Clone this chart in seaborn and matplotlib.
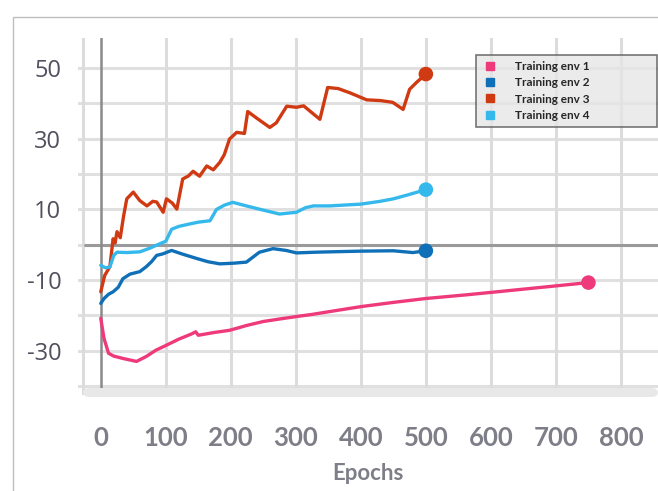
import pandas as pd
import numpy as np
import matplotlib
matplotlib.use("Agg")
import matplotlib.pyplot as plt
from matplotlib.lines import Line2D
from matplotlib.patches import Rectangle, FancyBboxPatch
import seaborn as sns

# data (epoch, reward)
env1_x = [0, 5, 12, 20, 35, 55, 70, 85, 100, 120, 140, 146, 150, 175, 198, 225, 250, 275, 301, 325, 352, 400, 450, 500, 560, 615, 680, 750]
env1_y = [-20.8, -26.5, -30.7, -31.5, -32.2, -33.0, -31.6, -29.8, -28.5, -26.7, -25.2, -24.6, -25.6, -24.8, -24.2, -22.8, -21.7, -21.0, -20.3, -19.7, -18.9, -17.5, -16.3, -15.2, -14.2, -13.2, -12.0, -10.7]

env2_x = [0, 5, 12, 19, 27, 34, 45, 60, 70, 78, 86, 95, 109, 125, 148, 165, 183, 205, 224, 244, 265, 285, 301, 330, 352, 400, 450, 480, 500]
env2_y = [-16.6, -15.2, -14.0, -13.3, -12.0, -9.6, -8.3, -7.6, -6.2, -4.8, -3.0, -2.6, -1.6, -2.6, -3.9, -4.8, -5.4, -5.2, -4.9, -2.1, -1.1, -1.6, -2.3, -2.1, -2.0, -1.8, -1.7, -2.2, -1.7]

env3_x = [0, 6, 14, 19, 22, 25, 30, 35, 40, 50, 60, 71, 80, 86, 96, 101, 110, 117, 126, 135, 142, 152, 163, 173, 183, 190, 198, 209, 221, 226, 240, 260, 270, 286, 301, 312, 337, 349, 365, 383, 409, 430, 449, 465, 475, 486, 500]
env3_y = [-13.3, -8.7, -6.2, 1.7, 0.5, 3.7, 2.0, 8.0, 13.0, 14.9, 12.5, 11.0, 12.3, 12.1, 9.2, 13.0, 11.8, 10.1, 18.6, 19.5, 20.8, 19.4, 22.3, 21.2, 23.3, 25.5, 29.9, 31.8, 31.5, 37.7, 35.8, 33.2, 34.5, 39.2, 38.9, 39.3, 35.5, 44.5, 44.2, 43.0, 41.0, 40.8, 40.3, 38.3, 44.0, 46.0, 48.3]

env4_x = [0, 7, 14, 20, 25, 40, 60, 75, 91, 100, 109, 120, 137, 150, 168, 178, 190, 203, 224, 250, 275, 301, 315, 327, 352, 400, 430, 450, 470, 485, 500]
env4_y = [-5.8, -6.5, -6.3, -3.0, -2.1, -2.2, -2.0, -1.0, 0.3, 1.0, 4.4, 5.2, 5.9, 6.4, 6.8, 10.0, 11.2, 12.0, 11.0, 9.8, 8.7, 9.2, 10.5, 11.0, 11.0, 11.5, 12.3, 13.0, 14.0, 14.8, 15.6]

labels = ["Training env 1", "Training env 2", "Training env 3", "Training env 4"]
colors = ["#EE3A7A", "#0F70B8", "#CF3A12", "#35B9EC"]
series_x = [env1_x, env2_x, env3_x, env4_x]
series_y = [env1_y, env2_y, env3_y, env4_y]

frames = []
for lab, xs, ys in zip(labels, series_x, series_y):
    frames.append(pd.DataFrame({"epoch": xs, "reward": ys, "env": lab}))
df = pd.concat(frames, ignore_index=True)
ends = df.groupby("env", sort=False).tail(1)

sns.set_style("white")
plt.rcParams["font.family"] = ["Open Sans", "DejaVu Sans"]
plt.rcParams["axes.unicode_minus"] = False

fig = plt.figure(figsize=(6.58, 4.91), dpi=100)
ax = fig.add_axes([78 / 658, 96 / 491, 580 / 658, 357 / 491])

# grid
for yv in range(-40, 51, 10):
    ax.axhline(yv, color="#E0E0E0", lw=2.2, zorder=0)
for xv in list(range(100, 801, 100)) + [-28]:
    ax.axvline(xv, color="#DCDCDC", lw=2.2, zorder=0)
ax.axhline(0, color="#9A9A9A", lw=2.2, zorder=1, xmin=0.012)
ax.axvline(0, color="#8A8A8A", lw=1.8, zorder=1)

palette = dict(zip(labels, colors))
sns.lineplot(data=df, x="epoch", y="reward", hue="env", palette=palette,
             lw=2.4, ax=ax, legend=False, zorder=3, sort=False)
sns.scatterplot(data=ends, x="epoch", y="reward", hue="env", palette=palette,
                s=110, edgecolor="none", ax=ax, legend=False, zorder=4)

ax.set_xlim(-35, 857)
ax.set_ylim(-42.5, 58.5)
ax.set_xticks(range(0, 801, 100))
ax.set_yticks([-30, -10, 10, 30, 50])
for s in ax.spines.values():
    s.set_visible(False)

ax.tick_params(axis="y", length=0, pad=12, labelsize=17, labelcolor="#50505E")
ax.tick_params(axis="x", length=6, width=1.2, color="#D8D8D8", pad=16)
for t in ax.get_yticklabels():
    t.set_fontfamily("Open Sans")
for t in ax.get_xticklabels():
    t.set_fontfamily("Lato")
    t.set_fontweight("bold")
    t.set_fontsize(18.5)
    t.set_color("#7E7E88")

ax.set_xlabel("Epochs", fontfamily="Lato", fontweight="bold", fontsize=16,
              color="#7E7E88", labelpad=10)
ax.set_ylabel("")

# light band at the bottom of the plot
band = FancyBboxPatch((83 / 658, 94 / 491), 575 / 658, 9 / 491,
                      boxstyle="round,pad=0,rounding_size=0.01",
                      transform=fig.transFigure, facecolor="#E8E8E8",
                      edgecolor="none", zorder=0)
fig.patches.append(band)

# outer frame
fig.patches.append(Rectangle((13 / 658, -0.01), 0.99, 1 - 17 / 491 + 0.01,
                             transform=fig.transFigure, fill=False,
                             edgecolor="#BDBDBD", lw=1.0))

handles = [Line2D([], [], marker="s", ls="none", markersize=6, color=c) for c in colors]
leg = fig.legend(handles, labels, loc="upper left",
                 bbox_to_anchor=(476 / 658, 1 - 126 / 491, 181 / 658, 71 / 491),
                 mode="expand", borderaxespad=0, frameon=True, fancybox=False,
                 prop={"family": "Lato", "weight": "bold", "size": 8.5},
                 labelspacing=0.45, handletextpad=1.4, borderpad=0.5,
                 handlelength=1.4)
leg.get_frame().set_facecolor("#E6E6E6")
leg.get_frame().set_edgecolor("#555555")
leg.get_frame().set_linewidth(1.2)

fig.savefig("out.png", dpi=100)
